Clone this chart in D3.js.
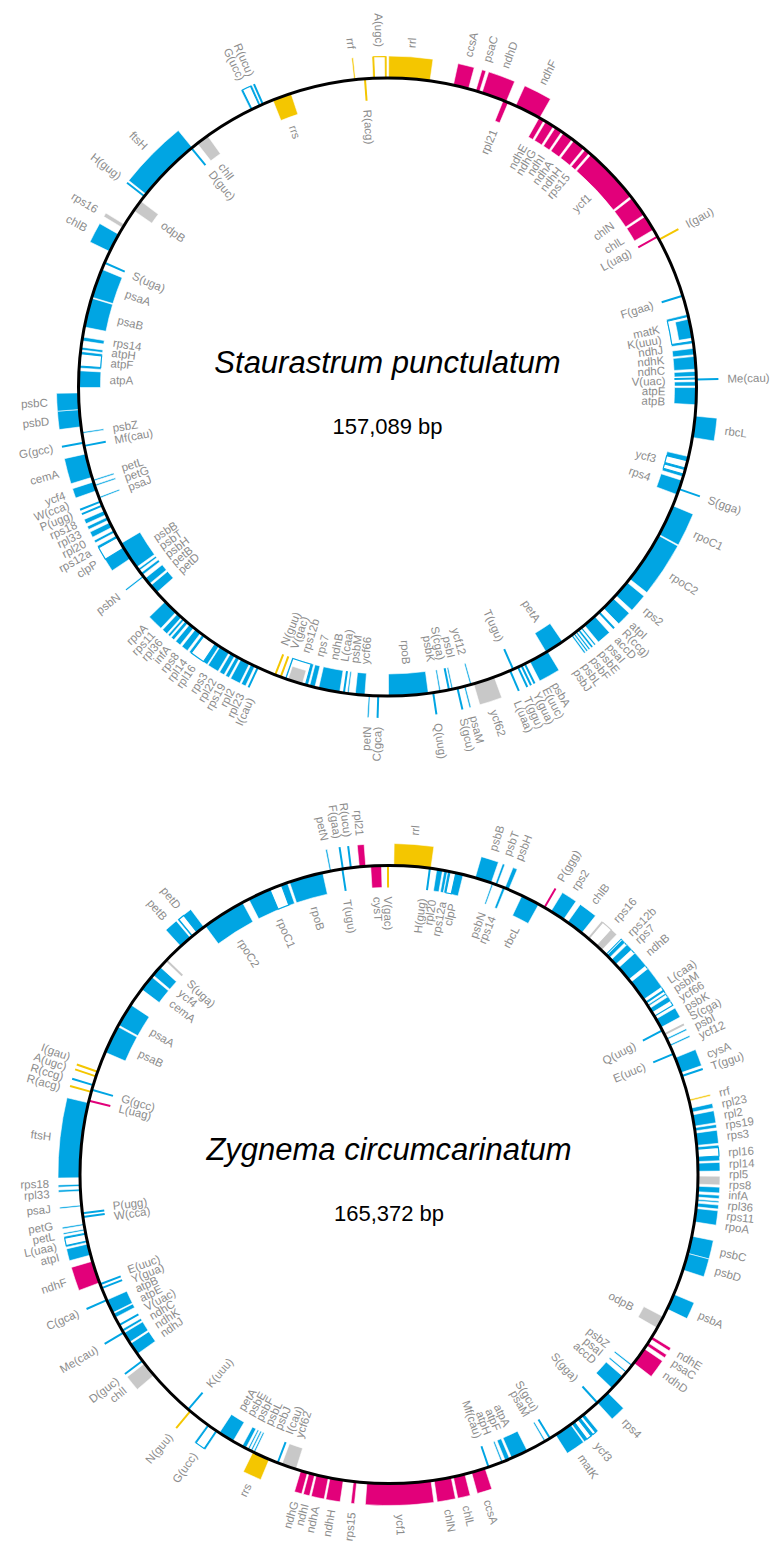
<!DOCTYPE html>
<html>
<head>
<meta charset="utf-8">
<script src="https://cdn.jsdelivr.net/npm/d3@7"></script>
<style>
  body { margin: 0; background: #fff; }
  svg { display: block; }
  text { font-family: "Liberation Sans", Arial, Helvetica, sans-serif; }
</style>
</head>
<body>
<svg id="chart" width="772" height="1545"></svg>
<script>
// Genome maps of two charophyte plastomes.
// Gene rows: [name, start (kb), end (kb), strand (+1 outside / -1 inside), group]

const stauLength = 157.089;
const stauGenes = [
  ["A(ugc)",155.91,157.05,1,"rna"],
  ["rrl",0.09,3.45,1,"rna"],
  ["ccsA",5.37,6.63,1,"nd"],
  ["psaC",7.24,7.55,1,"nd"],
  ["ndhD",7.77,9.86,1,"nd"],
  ["rpl21",9.60,10.04,-1,"nd"],
  ["ndhF",10.69,12.87,1,"nd"],
  ["ndhE",12.83,13.27,-1,"nd"],
  ["ndhG",13.44,14.18,-1,"nd"],
  ["ndhI",14.36,14.97,-1,"nd"],
  ["ndhA",15.14,16.01,-1,"nd"],
  ["ndhH",16.19,17.19,-1,"nd"],
  ["rps15",17.37,17.80,-1,"nd"],
  ["ycf1",17.98,22.65,-1,"nd"],
  ["chlN",22.82,24.48,-1,"nd"],
  ["chlL",24.65,25.92,-1,"nd"],
  ["L(uag)",26.54,26.61,-1,"nd"],
  ["I(gau)",26.80,26.87,1,"rna"],
  ["F(gaa)",31.74,31.81,-1,"pt"],
  ["K(uuu)",33.34,35.74,-1,"pt"],
  ["ndhJ",36.13,36.65,-1,"pt"],
  ["ndhK",36.79,37.83,-1,"pt"],
  ["ndhC",38.01,38.40,-1,"pt"],
  ["V(uac)",38.54,38.61,-1,"pt"],
  ["Me(cau)",38.63,38.70,1,"pt"],
  ["atpE",38.84,39.19,-1,"pt"],
  ["atpB",39.32,40.71,-1,"pt"],
  ["rbcL",41.63,43.37,1,"pt"],
  ["ycf3",44.95,46.65,-1,"pt"],
  ["rps4",46.95,48.17,-1,"pt"],
  ["S(gga)",47.66,47.73,1,"pt"],
  ["rpoC1",49.13,51.71,1,"pt"],
  ["rpoC2",51.80,56.03,1,"pt"],
  ["rps2",56.38,57.77,1,"pt"],
  ["atpI",58.08,59.21,1,"pt"],
  ["R(ccg)",59.66,59.73,1,"pt"],
  ["accD",60.17,61.27,1,"pt"],
  ["psaI",61.53,61.66,1,"pt"],
  ["psbE",61.79,61.96,1,"pt"],
  ["psbF",62.09,62.18,1,"pt"],
  ["psbL",62.31,62.40,1,"pt"],
  ["psbJ",62.53,62.62,1,"pt"],
  ["petA",63.49,65.06,-1,"pt"],
  ["psbA",64.93,66.59,1,"pt"],
  ["E(uuc)",67.00,67.07,1,"pt"],
  ["Y(gua)",67.30,67.37,1,"pt"],
  ["T(ggu)",67.61,67.68,1,"pt"],
  ["T(ugu)",68.04,68.11,-1,"pt"],
  ["L(uaa)",68.31,68.38,1,"pt"],
  ["ycf62",69.73,71.48,1,"orf"],
  ["ycf12",71.65,71.78,-1,"pt"],
  ["psaM",72.17,72.28,1,"pt"],
  ["S(gcu)",72.80,72.87,1,"pt"],
  ["psbI",73.22,73.31,-1,"pt"],
  ["S(cga)",73.50,73.57,-1,"pt"],
  ["psbK",74.22,74.33,-1,"pt"],
  ["Q(uug)",74.80,74.87,1,"pt"],
  ["rpoB",75.23,78.46,-1,"pt"],
  ["C(gca)",79.26,79.33,1,"pt"],
  ["petN",79.97,80.06,1,"pt"],
  ["ycf66",80.38,81.16,-1,"pt"],
  ["psbM",81.71,81.79,-1,"pt"],
  ["L(caa)",82.05,82.12,-1,"pt"],
  ["ndhB",82.43,84.17,-1,"pt"],
  ["rps7",84.48,84.92,-1,"pt"],
  ["rps12b",85.05,87.01,-1,"pt"],
  ["V(gac)",87.33,87.40,-1,"rna"],
  ["N(guu)",87.81,87.88,-1,"rna"],
  ["I(cau)",89.34,89.41,1,"pt"],
  ["rpl23",89.63,89.98,1,"pt"],
  ["rpl2",90.11,90.89,1,"pt"],
  ["rps19",91.03,91.33,1,"pt"],
  ["rpl22",91.46,91.85,1,"pt"],
  ["rps3",91.99,92.86,1,"pt"],
  ["rpl16",92.95,94.60,1,"pt"],
  ["rpl14",94.78,95.30,1,"pt"],
  ["rps8",95.48,95.91,1,"pt"],
  ["infA",96.09,96.35,1,"pt"],
  ["rpl36",96.48,96.66,1,"pt"],
  ["rps11",96.79,97.22,1,"pt"],
  ["rpoA",97.40,98.62,1,"pt"],
  ["petD",99.62,100.37,-1,"pt"],
  ["petB",100.54,101.11,-1,"pt"],
  ["psbN",101.28,101.36,1,"pt"],
  ["psbH",101.45,101.67,-1,"pt"],
  ["psbT",101.89,102.06,-1,"pt"],
  ["psbB",102.24,104.55,-1,"pt"],
  ["clpP",103.11,105.29,1,"pt"],
  ["rps12a",105.56,105.77,1,"pt"],
  ["rpl20",106.04,106.47,1,"pt"],
  ["rpl33",106.69,106.95,1,"pt"],
  ["rps18",107.17,107.52,1,"pt"],
  ["P(ugg)",107.93,108.00,1,"pt"],
  ["W(cca)",108.28,108.35,1,"pt"],
  ["psaJ",108.61,108.70,-1,"pt"],
  ["ycf4",109.26,110.01,1,"pt"],
  ["petG",109.66,109.74,-1,"pt"],
  ["petL",110.09,110.18,-1,"pt"],
  ["cemA",110.40,112.36,1,"pt"],
  ["Mf(cau)",112.99,113.06,-1,"pt"],
  ["G(gcc)",113.25,113.32,1,"pt"],
  ["psbZ",114.06,114.15,-1,"pt"],
  ["psbD",114.59,115.99,1,"pt"],
  ["psbC",115.99,117.34,1,"pt"],
  ["atpA",117.77,119.13,-1,"pt"],
  ["atpF",119.35,120.70,-1,"pt"],
  ["atpH",120.83,121.05,-1,"pt"],
  ["rps14",121.57,121.88,-1,"pt"],
  ["psaB",122.70,125.11,-1,"pt"],
  ["psaA",125.19,127.59,-1,"pt"],
  ["S(uga)",128.13,128.20,-1,"pt"],
  ["chlB",129.16,130.73,1,"pt"],
  ["rps16",131.34,131.65,1,"orf"],
  ["odpB",133.00,133.96,-1,"orf"],
  ["H(gug)",134.41,134.48,1,"pt"],
  ["ftsH",134.66,139.98,1,"pt"],
  ["D(guc)",139.87,139.94,-1,"pt"],
  ["chlI",140.51,141.55,-1,"orf"],
  ["G(ucc)",145.61,146.53,1,"pt"],
  ["R(ucu)",146.67,146.74,1,"pt"],
  ["rrs",147.58,149.15,-1,"rna"],
  ["rrf",154.40,154.47,1,"rna"],
  ["R(acg)",155.23,155.30,-1,"rna"]
];
// Intron spans: [start, end, strand, group]
const stauIntrons = [
  [156.04,156.92,1,"rna"],
  [33.51,35.56,-1,"pt"],
  [45.30,45.91,-1,"pt"],
  [46.04,46.43,-1,"pt"],
  [85.27,86.93,-1,"pt"],
  [93.30,94.43,1,"pt"],
  [104.12,105.12,1,"pt"],
  [119.52,120.52,-1,"pt"],
  [145.74,146.40,1,"pt"]
];
// Open reading frames lying inside introns
const stauIntronOrfs = [
  ["matK",33.73,35.30,-1,"pt"],
  ["",85.53,86.75,-1,"orf"]
];

const zygLength = 165.372;
const zygGenes = [
  ["rrl",0.41,3.58,1,"rna"],
  ["H(gug)",3.46,3.53,-1,"pt"],
  ["rpl20",4.09,4.59,-1,"pt"],
  ["rps12a",4.73,5.01,-1,"pt"],
  ["clpP",5.05,6.39,-1,"pt"],
  ["psbB",7.44,8.87,1,"pt"],
  ["psbN",8.96,9.04,-1,"pt"],
  ["psbT",9.23,9.42,1,"pt"],
  ["rps14",9.92,10.15,-1,"pt"],
  ["psbH",10.11,10.47,1,"pt"],
  ["rbcL",11.71,13.32,-1,"pt"],
  ["P(ggg)",13.84,13.91,1,"nd"],
  ["rps2",14.52,15.80,1,"pt"],
  ["chlB",16.22,17.73,1,"pt"],
  ["rps16",18.37,19.98,1,"orf"],
  ["rps12b",20.58,20.90,1,"pt"],
  ["rps7",21.13,21.68,1,"pt"],
  ["ndhB",22.05,23.38,1,"pt"],
  ["",23.66,25.50,1,"pt"],
  ["L(caa)",25.79,25.86,1,"pt"],
  ["psbM",26.10,26.18,1,"pt"],
  ["ycf66",26.41,26.83,1,"pt"],
  ["psbK",27.47,28.30,1,"pt"],
  ["Q(uug)",28.54,28.61,-1,"pt"],
  ["S(cga)",28.91,28.98,1,"orf"],
  ["psbI",29.36,29.44,1,"pt"],
  ["ycf12",29.96,30.04,1,"pt"],
  ["E(uuc)",30.75,30.82,-1,"pt"],
  ["cysA",31.15,32.52,1,"pt"],
  ["T(ggu)",32.77,32.84,1,"pt"],
  ["rrf",34.93,35.00,1,"rna"],
  ["rpl23",35.65,36.01,1,"pt"],
  ["rpl2",36.24,37.21,1,"pt"],
  ["rps19",37.35,37.62,1,"pt"],
  ["rps3",37.81,38.86,1,"pt"],
  ["rpl16",39.00,40.24,1,"pt"],
  ["rpl14",40.38,41.07,1,"pt"],
  ["rpl5",41.48,42.17,1,"orf"],
  ["rps8",42.35,42.81,1,"pt"],
  ["infA",43.00,43.27,1,"pt"],
  ["rpl36",43.46,43.59,1,"pt"],
  ["rps11",43.78,44.10,1,"pt"],
  ["rpoA",44.24,45.39,1,"pt"],
  ["psbC",46.63,48.14,1,"pt"],
  ["psbD",48.14,49.61,1,"pt"],
  ["psbA",51.82,53.20,1,"pt"],
  ["odpB",53.93,55.03,-1,"orf"],
  ["ndhE",55.86,56.13,1,"nd"],
  ["psaC",56.50,56.78,1,"nd"],
  ["ndhD",57.10,58.62,1,"nd"],
  ["psbZ",58.84,58.92,-1,"pt"],
  ["psaI",59.58,59.66,-1,"pt"],
  ["accD",60.09,61.46,-1,"pt"],
  ["rps4",61.97,63.21,1,"pt"],
  ["S(gga)",63.18,63.25,-1,"pt"],
  ["ycf3",64.68,66.06,1,"pt"],
  ["matK",66.15,67.71,1,"pt"],
  ["S(gcu)",68.23,68.30,-1,"pt"],
  ["psaM",68.72,68.80,-1,"pt"],
  ["atpA",70.47,71.94,-1,"pt"],
  ["atpF",72.12,72.53,-1,"pt"],
  ["atpH",72.76,72.90,-1,"pt"],
  ["Mf(cau)",74.02,74.09,-1,"pt"],
  ["ccsA",74.37,75.57,1,"nd"],
  ["chlL",76.16,77.17,1,"nd"],
  ["chlN",77.36,78.83,1,"nd"],
  ["ycf1",79.10,84.57,1,"nd"],
  ["rps15",85.44,85.72,1,"nd"],
  ["ndhH",86.59,87.74,1,"nd"],
  ["ndhA",87.88,88.93,1,"nd"],
  ["ndhI",89.07,89.58,1,"nd"],
  ["ndhG",89.71,90.31,1,"nd"],
  ["ycf62",90.73,92.01,-1,"orf"],
  ["I(cau)",92.35,92.42,-1,"pt"],
  ["rrs",93.16,94.68,1,"rna"],
  ["psbJ",94.54,94.63,-1,"pt"],
  ["psbL",94.81,94.90,-1,"pt"],
  ["psbF",95.09,95.18,-1,"pt"],
  ["psbE",95.37,95.73,-1,"pt"],
  ["petA",96.61,97.98,-1,"pt"],
  ["G(ucc)",98.17,99.22,1,"pt"],
  ["N(guu)",101.03,101.10,1,"rna"],
  ["K(uuu)",101.26,101.33,-1,"pt"],
  ["chlI",105.43,106.71,1,"orf"],
  ["D(guc)",106.96,107.03,1,"pt"],
  ["ndhJ",107.72,108.78,-1,"pt"],
  ["ndhK",108.92,109.84,-1,"pt"],
  ["Me(cau)",109.85,109.92,1,"pt"],
  ["ndhC",109.97,110.20,-1,"pt"],
  ["V(uac)",110.59,110.66,-1,"pt"],
  ["atpE",111.35,111.72,-1,"pt"],
  ["atpB",111.81,113.01,-1,"pt"],
  ["C(gca)",112.98,113.05,1,"pt"],
  ["Y(gua)",114.08,114.15,-1,"pt"],
  ["E(uuc)",114.44,114.51,-1,"pt"],
  ["ndhF",114.61,116.54,1,"nd"],
  ["atpI",117.09,118.06,1,"pt"],
  ["L(uaa)",118.20,119.07,1,"pt"],
  ["petL",119.25,119.33,1,"pt"],
  ["petG",119.71,119.79,1,"pt"],
  ["W(cca)",120.37,120.44,-1,"pt"],
  ["P(ugg)",120.69,120.76,-1,"pt"],
  ["psaJ",121.32,121.40,1,"pt"],
  ["rpl33",122.61,122.79,1,"pt"],
  ["rps18",123.02,123.20,1,"pt"],
  ["ftsH",123.75,130.19,1,"pt"],
  ["L(uag)",130.34,130.41,-1,"nd"],
  ["R(acg)",131.12,131.19,1,"rna"],
  ["G(gcc)",131.30,131.37,-1,"pt"],
  ["R(ccg)",131.72,131.79,1,"pt"],
  ["A(ugc)",132.50,132.57,1,"rna"],
  ["I(gau)",132.91,132.98,1,"rna"],
  ["psaB",134.73,137.17,-1,"pt"],
  ["psaA",137.31,139.33,-1,"pt"],
  ["cemA",140.94,142.31,-1,"pt"],
  ["ycf4",142.50,143.42,-1,"pt"],
  ["S(uga)",144.17,144.24,-1,"orf"],
  ["petB",145.90,147.00,1,"pt"],
  ["petD",147.14,148.47,1,"pt"],
  ["rpoC2",148.61,152.37,-1,"pt"],
  ["rpoC1",152.97,156.55,-1,"pt"],
  ["rpoB",156.74,159.68,-1,"pt"],
  ["petN",160.32,160.40,1,"pt"],
  ["T(ugu)",161.35,161.42,-1,"pt"],
  ["F(gaa)",161.39,161.46,1,"pt"],
  ["R(ucu)",162.08,162.15,1,"pt"],
  ["rpl21",162.84,163.39,1,"nd"],
  ["cysT",163.81,164.73,-1,"nd"],
  ["V(gac)",165.25,165.32,-1,"rna"]
];
const zygIntrons = [
  [5.24,5.74,-1,"pt"],
  [18.51,19.43,1,"orf"],
  [20.49,27.19,1,"pt"],
  [39.18,39.87,1,"pt"],
  [64.91,65.18,1,"pt"],
  [65.37,65.78,1,"pt"],
  [98.31,99.09,1,"pt"],
  [118.33,118.93,1,"pt"],
  [147.23,147.73,1,"pt"],
  [154.95,156.00,-1,"pt"]
];
const zygIntronOrfs = [];

const palette = { pt: "#00a5e3", nd: "#e2007a", rna: "#f4c600", orf: "#c8c8c8" };
const BAND = 22, ORF_BAND = 14, LABEL_GAP = 31, LABEL_STEP = 10.4;

const svg = d3.select("#chart");

// Push labels apart along the arc: overlapping neighbours are merged into
// clusters that are centred on the mean of their wanted angles.
function spread(items, step) {
  items.sort((a, b) => a.want - b.want);
  const place = c => {
    c.start = d3.mean(c.items, d => d.want) - (c.items.length - 1) * step / 2;
  };
  const clusters = items.map(it => ({ items: [it] }));
  clusters.forEach(place);
  let merged = true;
  while (merged) {
    merged = false;
    for (let i = 0; i < clusters.length - 1; i++) {
      const a = clusters[i], b = clusters[i + 1];
      const aEnd = a.start + (a.items.length - 1) * step;
      if (b.start - aEnd < step - 1e-9) {
        a.items = a.items.concat(b.items);
        place(a);
        clusters.splice(i + 1, 1);
        merged = true;
        break;
      }
    }
  }
  clusters.forEach(c => c.items.forEach((it, k) => { it.pos = c.start + k * step; }));
}

function drawMap(m) {
  const g = svg.append("g").attr("transform", `translate(${m.cx},${m.cy})`);
  const R = m.r;
  const angle = d3.scaleLinear().domain([0, m.length]).range([0, 2 * Math.PI]);
  const minW = 1.6 / R;
  const radii = (strand, h) => strand > 0 ? [R, R + h] : [R - h, R];
  const isTrna = d => d[0].includes("(") && d[2] - d[1] < 0.25;
  const inIntron = d => m.introns.some(i => i[0] <= d[1] && d[2] <= i[1]);
  const arc = d3.arc();

  function drawFeatures(layer, rows, h) {
    layer.selectAll("path").data(rows.filter(d => !isTrna(d))).join("path")
      .attr("d", d => {
        let a0 = angle(d[1]), a1 = angle(d[2]);
        if (a1 - a0 < minW) { const c = (a0 + a1) / 2; a0 = c - minW / 2; a1 = c + minW / 2; }
        const [r0, r1] = radii(d[3], h);
        return arc({ innerRadius: r0, outerRadius: r1, startAngle: a0, endAngle: a1 });
      })
      .attr("fill", d => palette[d[4]])
      .attr("stroke", "#fff")
      .attr("stroke-width", 0.6);
    layer.selectAll("line").data(rows.filter(isTrna)).join("line")
      .each(function (d) {
        const a = angle((d[1] + d[2]) / 2);
        const [r0, r1] = radii(d[3], h);
        d3.select(this)
          .attr("x1", r0 * Math.sin(a)).attr("y1", -r0 * Math.cos(a))
          .attr("x2", r1 * Math.sin(a)).attr("y2", -r1 * Math.cos(a));
      })
      .attr("stroke", d => palette[d[4]])
      .attr("stroke-width", 2);
  }

  drawFeatures(g.append("g"), m.genes.filter(d => !inIntron(d)), BAND);

  g.append("g").selectAll("path").data(m.introns).join("path")
    .attr("d", d => {
      const [r0, r1] = radii(d[2], BAND);
      return arc({ innerRadius: r0 + 0.5, outerRadius: r1 - 0.5,
                   startAngle: angle(d[0]), endAngle: angle(d[1]) });
    })
    .attr("fill", "#fff")
    .attr("stroke", d => palette[d[3]])
    .attr("stroke-width", 1.1);

  drawFeatures(g.append("g"), m.genes.filter(inIntron), BAND);
  drawFeatures(g.append("g"), m.orfs, ORF_BAND);

  g.append("circle").attr("r", R)
    .attr("fill", "none").attr("stroke", "#000").attr("stroke-width", 3);

  // gene labels, radial, on the same side as their strand
  const named = m.genes.concat(m.orfs).filter(d => d[0]);
  [1, -1].forEach(side => {
    const rl = side > 0 ? R + LABEL_GAP : R - LABEL_GAP;
    const step = LABEL_STEP / rl * 180 / Math.PI;
    const items = named.filter(d => d[3] === side)
      .map(d => ({ name: d[0], want: angle((d[1] + d[2]) / 2) * 180 / Math.PI }));
    spread(items, step);
    const isLeft = d => ((d.pos % 360) + 360) % 360 >= 180;
    g.append("g").selectAll("text").data(items).join("text")
      .attr("transform", d => `rotate(${d.pos - 90}) translate(${rl},0)` + (isLeft(d) ? " rotate(180)" : ""))
      .attr("text-anchor", d => ((side > 0) !== isLeft(d)) ? "start" : "end")
      .attr("dominant-baseline", "central")
      .attr("font-size", 11.5)
      .attr("fill", "#8c8c8c")
      .text(d => d.name);
  });

  g.append("text").attr("x", 0).attr("y", -14.5)
    .attr("text-anchor", "middle").attr("font-size", 31).attr("font-style", "italic")
    .attr("fill", "#000").text(m.title);
  g.append("text").attr("x", 0).attr("y", 46.5)
    .attr("text-anchor", "middle").attr("font-size", 22)
    .attr("fill", "#000").text(d3.format(",")(Math.round(m.length * 1000)) + " bp");
}

drawMap({ cx: 387.5, cy: 387, r: 309, length: stauLength, genes: stauGenes,
          introns: stauIntrons, orfs: stauIntronOrfs, title: "Staurastrum punctulatum" });
drawMap({ cx: 389, cy: 1174.5, r: 309, length: zygLength, genes: zygGenes,
          introns: zygIntrons, orfs: zygIntronOrfs, title: "Zygnema circumcarinatum" });
</script>
</body>
</html>
